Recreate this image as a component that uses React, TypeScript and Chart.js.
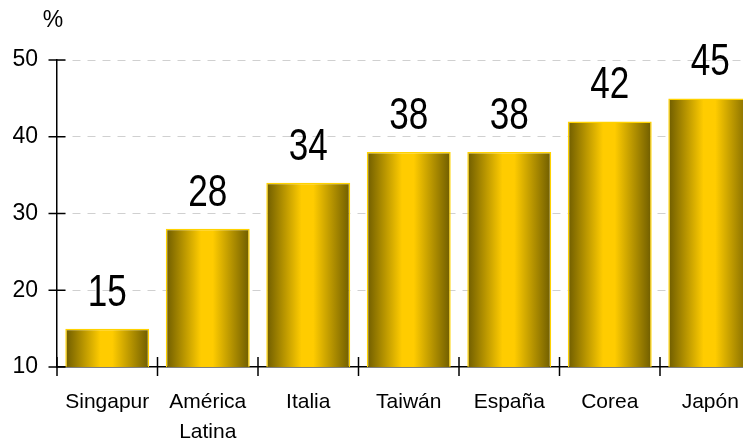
import React, { useEffect, useRef } from "react";
import { Chart, registerables } from "chart.js";

Chart.register(...registerables);

const categories: (string | string[])[] = ["Singapur", ["América", "Latina"], "Italia", "Taiwán", "España", "Corea", "Japón"];
const values: number[] = [15, 28, 34, 38, 38, 42, 45];
const yTicks: number[] = [10, 20, 30, 40, 50];
const unitLabel = "%";

const BAR_PCT = 0.835;
const SANS = '"Liberation Sans", Arial, sans-serif';

const overlay = {
  id: "overlay",
  afterDraw(chart: any) {
    const { ctx, scales } = chart;
    const x = scales.x;
    const y = scales.y;
    ctx.save();
    ctx.strokeStyle = "#000";
    ctx.lineWidth = 1.5;
    yTicks.forEach((v) => {
      const py = y.getPixelForValue(v);
      ctx.beginPath();
      ctx.moveTo(x.left - 8.5, py);
      ctx.lineTo(x.left + 8.5, py);
      ctx.stroke();
    });
    const n = categories.length;
    for (let k = 0; k <= n; k++) {
      const px = k < n ? x.getPixelForValue(k) - (x.width / n) / 2 : x.getPixelForValue(n - 1) + (x.width / n) / 2;
      ctx.beginPath();
      ctx.moveTo(px, y.bottom - 10);
      ctx.lineTo(px, y.bottom + 9);
      ctx.stroke();
    }
    ctx.fillStyle = "#000";
    ctx.textAlign = "center";
    ctx.textBaseline = "alphabetic";
    const sx = 0.78;
    values.forEach((v, i) => {
      const px = x.getPixelForValue(i);
      const py = y.getPixelForValue(v);
      ctx.save();
      ctx.translate(px, py - 23);
      ctx.scale(sx, 1);
      ctx.font = `45px ${SANS}`;
      ctx.fillText(String(v), 0, 0);
      ctx.restore();
    });
    ctx.font = `23px ${SANS}`;
    ctx.textBaseline = "middle";
    ctx.fillText(unitLabel, x.left - 4, 13);
    ctx.restore();
  },
};

export default function App() {
  const ref = useRef<HTMLCanvasElement | null>(null);
  useEffect(() => {
    document.body.style.margin = "8px 8px 0 8px";
    document.documentElement.style.overflow = "hidden";
    const canvas = ref.current;
    if (!canvas) return;
    const chart = new Chart(canvas, {
      type: "bar",
      data: {
        labels: categories,
        datasets: [
          {
            data: values,
            backgroundColor: (c: any) => {
              const ch = c.chart;
              const xs = ch.scales && ch.scales.x;
              if (!xs || c.dataIndex === undefined) return "#ffcc00";
              const center = xs.getPixelForValue(c.dataIndex);
              const hw = ((xs.width / categories.length) * BAR_PCT) / 2;
              if (!isFinite(center) || !isFinite(hw) || hw <= 0) return "#ffcc00";
              const g = ch.ctx.createLinearGradient(center - hw, 0, center + hw, 0);
              g.addColorStop(0, "#6e5c00");
              g.addColorStop(0.42, "#ffcc00");
              g.addColorStop(0.56, "#ffcc00");
              g.addColorStop(1, "#6e5c00");
              return g;
            },
            borderColor: "#ffd200",
            borderWidth: 1.5,
            barPercentage: BAR_PCT,
            categoryPercentage: 1,
          },
        ],
      },
      options: {
        animation: false,
        responsive: false,
        maintainAspectRatio: false,
        layout: { padding: { top: 52, right: 7.5, left: 0, bottom: 0 } },
        plugins: { legend: { display: false }, tooltip: { enabled: false } },
        scales: {
          x: {
            grid: { display: false, drawTicks: false },
            border: { display: true, color: "#000", width: 1.5 },
            ticks: {
              color: "#000",
              font: { family: SANS, size: 21, lineHeight: 1.43 },
              padding: 20,
              maxRotation: 0,
              autoSkip: false,
            },
            afterFit: (s: any) => {
              s.height = 73;
            },
          },
          y: {
            min: 10,
            max: 50,
            grid: {
              drawTicks: false,
              color: (c: any) => (c.tick && c.tick.value === 10 ? "rgba(0,0,0,0)" : "#d0d0d0"),
              lineWidth: 1,
            },
            border: { display: true, color: "#000", width: 1.5, dash: [8, 7] },
            ticks: {
              stepSize: 10,
              color: "#000",
              font: { family: SANS, size: 23 },
              padding: 19,
            },
            afterFit: (s: any) => {
              s.width = 49;
            },
          },
        },
      },
      plugins: [overlay],
    });
    return () => chart.destroy();
  }, []);
  return (
    <div style={{ width: 743, height: 432, overflow: "hidden" }}>
      <canvas ref={ref} width={760} height={432} style={{ width: 760, height: 432, display: "block" }} />
    </div>
  );
}
